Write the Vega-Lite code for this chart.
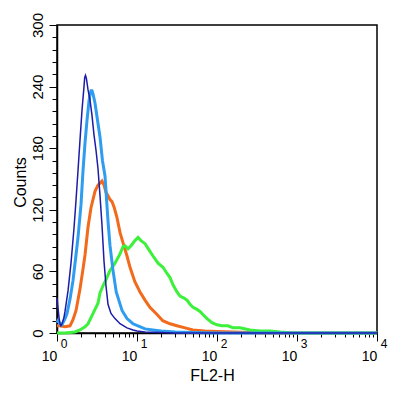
{
  "$schema": "https://vega.github.io/schema/vega-lite/v6.json",
  "width": 320,
  "height": 308,
  "autosize": {"type": "none"},
  "padding": {"left": 57, "top": 25, "right": 23, "bottom": 61},
  "background": "white",
  "config": {
    "view": {"stroke": "black", "strokeWidth": 1.5},
    "font": "Liberation Sans",
    "axis": {"grid": false, "domainColor": "black", "domainWidth": 1.5, "tickColor": "black", "tickWidth": 1, "labelColor": "black", "titleColor": "black", "labelFont": "Liberation Sans", "titleFont": "Liberation Sans", "titleFontWeight": "normal"}
  },
  "datasets": {
    "navy": [
      {"x": 1.0, "c": 34}, {"x": 1.03, "c": 24}, {"x": 1.06, "c": 15}, {"x": 1.09, "c": 9}, {"x": 1.12, "c": 7}, {"x": 1.155, "c": 9}, {"x": 1.22, "c": 15}, {"x": 1.259, "c": 21}, {"x": 1.373, "c": 41}, {"x": 1.496, "c": 68}, {"x": 1.631, "c": 102}, {"x": 1.728, "c": 129}, {"x": 1.83, "c": 158}, {"x": 1.939, "c": 188}, {"x": 2.054, "c": 217}, {"x": 2.175, "c": 240}, {"x": 2.22, "c": 249}, {"x": 2.27, "c": 251}, {"x": 2.33, "c": 248}, {"x": 2.371, "c": 244}, {"x": 2.441, "c": 237}, {"x": 2.585, "c": 227}, {"x": 2.738, "c": 212}, {"x": 2.901, "c": 193}, {"x": 3.073, "c": 178}, {"x": 3.255, "c": 160}, {"x": 3.447, "c": 134}, {"x": 3.652, "c": 105}, {"x": 3.868, "c": 70}, {"x": 4.097, "c": 46}, {"x": 4.34, "c": 28}, {"x": 4.73, "c": 19}, {"x": 5.309, "c": 14}, {"x": 6.131, "c": 9}, {"x": 7.499, "c": 5}, {"x": 8.913, "c": 3}, {"x": 10, "c": 2}, {"x": 12.59, "c": 1}, {"x": 19.39, "c": 0.5}, {"x": 30, "c": 0}, {"x": 10000, "c": 0}
    ],
    "lightblue": [
      {"x": 1.0, "c": 10}, {"x": 1.03, "c": 12}, {"x": 1.09, "c": 9}, {"x": 1.155, "c": 8}, {"x": 1.259, "c": 14}, {"x": 1.334, "c": 19}, {"x": 1.454, "c": 33}, {"x": 1.585, "c": 51}, {"x": 1.728, "c": 76}, {"x": 1.83, "c": 93}, {"x": 1.995, "c": 125}, {"x": 2.113, "c": 158}, {"x": 2.239, "c": 185}, {"x": 2.371, "c": 207}, {"x": 2.512, "c": 226}, {"x": 2.585, "c": 232}, {"x": 2.661, "c": 236}, {"x": 2.738, "c": 236}, {"x": 2.818, "c": 233}, {"x": 2.985, "c": 224}, {"x": 3.2, "c": 208}, {"x": 3.447, "c": 191}, {"x": 3.7, "c": 168}, {"x": 3.981, "c": 153}, {"x": 4.34, "c": 109}, {"x": 4.6, "c": 85}, {"x": 5.012, "c": 61}, {"x": 5.5, "c": 40}, {"x": 6.5, "c": 22}, {"x": 7.5, "c": 14}, {"x": 8.913, "c": 9}, {"x": 11, "c": 6}, {"x": 12.6, "c": 4}, {"x": 15.85, "c": 3}, {"x": 20, "c": 2}, {"x": 30, "c": 1}, {"x": 50, "c": 0.5}, {"x": 100, "c": 0}, {"x": 10000, "c": 0}
    ],
    "orange": [
      {"x": 1.0, "c": 7}, {"x": 1.09, "c": 7}, {"x": 1.26, "c": 6}, {"x": 1.454, "c": 7}, {"x": 1.585, "c": 13}, {"x": 1.73, "c": 22}, {"x": 1.94, "c": 43}, {"x": 2.11, "c": 62}, {"x": 2.24, "c": 76}, {"x": 2.44, "c": 103}, {"x": 2.66, "c": 122}, {"x": 2.985, "c": 138}, {"x": 3.255, "c": 144}, {"x": 3.55, "c": 147}, {"x": 3.65, "c": 148}, {"x": 3.87, "c": 144}, {"x": 4.1, "c": 137}, {"x": 4.6, "c": 130}, {"x": 4.87, "c": 128}, {"x": 5.2, "c": 122}, {"x": 5.6, "c": 113}, {"x": 6.13, "c": 98}, {"x": 6.68, "c": 88}, {"x": 7.5, "c": 75}, {"x": 8.18, "c": 64}, {"x": 9.4, "c": 50}, {"x": 10.9, "c": 40}, {"x": 12.6, "c": 32}, {"x": 14.5, "c": 25}, {"x": 17.8, "c": 18}, {"x": 21, "c": 12}, {"x": 25.85, "c": 9}, {"x": 31.6, "c": 7}, {"x": 40, "c": 5}, {"x": 50, "c": 3}, {"x": 70, "c": 2}, {"x": 100, "c": 1.5}, {"x": 160, "c": 1}, {"x": 250, "c": 0.5}, {"x": 400, "c": 0}, {"x": 10000, "c": 0}
    ],
    "green": [
      {"x": 1.0, "c": 0}, {"x": 1.259, "c": 0}, {"x": 1.454, "c": 0.5}, {"x": 1.679, "c": 1}, {"x": 1.939, "c": 3}, {"x": 2.239, "c": 6}, {"x": 2.441, "c": 9}, {"x": 2.738, "c": 17}, {"x": 2.985, "c": 23}, {"x": 3.255, "c": 29}, {"x": 3.447, "c": 39}, {"x": 3.758, "c": 46}, {"x": 4.097, "c": 52}, {"x": 4.597, "c": 61}, {"x": 5.309, "c": 68}, {"x": 6.131, "c": 77}, {"x": 6.683, "c": 84}, {"x": 7.079, "c": 85}, {"x": 7.715, "c": 82}, {"x": 8.414, "c": 85}, {"x": 9.441, "c": 90}, {"x": 10.29, "c": 93}, {"x": 11.22, "c": 90}, {"x": 12.59, "c": 87}, {"x": 14.12, "c": 81}, {"x": 15.85, "c": 75}, {"x": 18.32, "c": 68}, {"x": 21.13, "c": 64}, {"x": 23.71, "c": 58}, {"x": 25.85, "c": 54}, {"x": 28.18, "c": 47}, {"x": 31.62, "c": 40}, {"x": 34.47, "c": 36}, {"x": 38.73, "c": 34}, {"x": 42.17, "c": 32}, {"x": 45.97, "c": 28}, {"x": 50.12, "c": 25}, {"x": 56.23, "c": 23}, {"x": 61.31, "c": 21}, {"x": 66.68, "c": 18}, {"x": 74.99, "c": 14}, {"x": 86.6, "c": 10}, {"x": 100, "c": 8}, {"x": 115.5, "c": 7}, {"x": 137, "c": 7}, {"x": 158.5, "c": 5}, {"x": 193.9, "c": 5}, {"x": 258.5, "c": 3}, {"x": 344.7, "c": 2}, {"x": 459.7, "c": 2}, {"x": 613.1, "c": 1}, {"x": 818, "c": 0.3}, {"x": 1090, "c": 0}, {"x": 10000, "c": 0}
    ]
  },
  "resolve": {"axis": {"x": "independent", "y": "independent"}},
  "layer": [
    {
      "data": {"name": "orange"},
      "mark": {"type": "line", "color": "#f26a1b", "strokeWidth": 3},
      "encoding": {
        "x": {"field": "x", "type": "quantitative", "scale": {"type": "log", "domain": [1, 10000], "nice": false},
          "axis": {"orient": "bottom", "values": [1, 10, 100, 1000, 10000], "labelExpr": "'10'", "tickSize": 8, "labelFontSize": 14, "labelOffset": -8, "labelPadding": 8, "labelFlush": false, "labelOverlap": false, "title": "FL2-H", "titleFontSize": 16, "titleX": 155, "titleY": 34, "titleBaseline": "top"}},
        "y": {"field": "c", "type": "quantitative", "scale": {"domain": [0, 300], "nice": false, "zero": true},
          "axis": {"orient": "left", "values": [0, 60, 120, 180, 240, 300], "tickSize": 8, "labelFontSize": 15, "labelAngle": 270, "labelAlign": "center", "labelBaseline": "bottom", "labelPadding": 4, "labelFlush": false, "labelOverlap": false, "title": "Counts", "titleFontSize": 16, "titleAngle": 270, "titleAlign": "center", "titleBaseline": "bottom", "titleX": -29, "titleY": 157}}
      }
    },
    {
      "data": {"name": "green"},
      "mark": {"type": "line", "color": "#3cf03c", "strokeWidth": 3},
      "encoding": {
        "x": {"field": "x", "type": "quantitative", "scale": {"type": "log", "domain": [1, 10000], "nice": false},
          "axis": {"orient": "bottom", "values": [2, 3, 4, 5, 6, 7, 8, 9, 20, 30, 40, 50, 60, 70, 80, 90, 200, 300, 400, 500, 600, 700, 800, 900, 2000, 3000, 4000, 5000, 6000, 7000, 8000, 9000], "labels": false, "domain": false, "tickSize": 4, "title": null}},
        "y": {"field": "c", "type": "quantitative", "scale": {"domain": [0, 300], "nice": false},
          "axis": {"orient": "left", "values": [12, 24, 36, 48, 72, 84, 96, 108, 132, 144, 156, 168, 192, 204, 216, 228, 252, 264, 276, 288], "labels": false, "domain": false, "tickSize": 5, "title": null}}
      }
    },
    {
      "data": {"name": "lightblue"},
      "mark": {"type": "line", "color": "#2e9df0", "strokeWidth": 3},
      "encoding": {
        "x": {"field": "x", "type": "quantitative", "scale": {"type": "log", "domain": [1, 10000], "nice": false},
          "axis": {"orient": "bottom", "values": [1, 10, 100, 1000, 10000], "labelExpr": "format(log(datum.value)/LN10, 'd')", "ticks": false, "tickSize": 0, "domain": false, "labelFontSize": 12, "labelOffset": 6.5, "labelPadding": 5, "labelFlush": false, "labelOverlap": false, "title": null}},
        "y": {"field": "c", "type": "quantitative", "scale": {"domain": [0, 300], "nice": false}, "axis": null}
      }
    },
    {
      "data": {"name": "navy"},
      "mark": {"type": "line", "color": "#1c1ca8", "strokeWidth": 1.5},
      "encoding": {
        "x": {"field": "x", "type": "quantitative", "scale": {"type": "log", "domain": [1, 10000], "nice": false}, "axis": null},
        "y": {"field": "c", "type": "quantitative", "scale": {"domain": [0, 300], "nice": false}, "axis": null}
      }
    }
  ]
}
